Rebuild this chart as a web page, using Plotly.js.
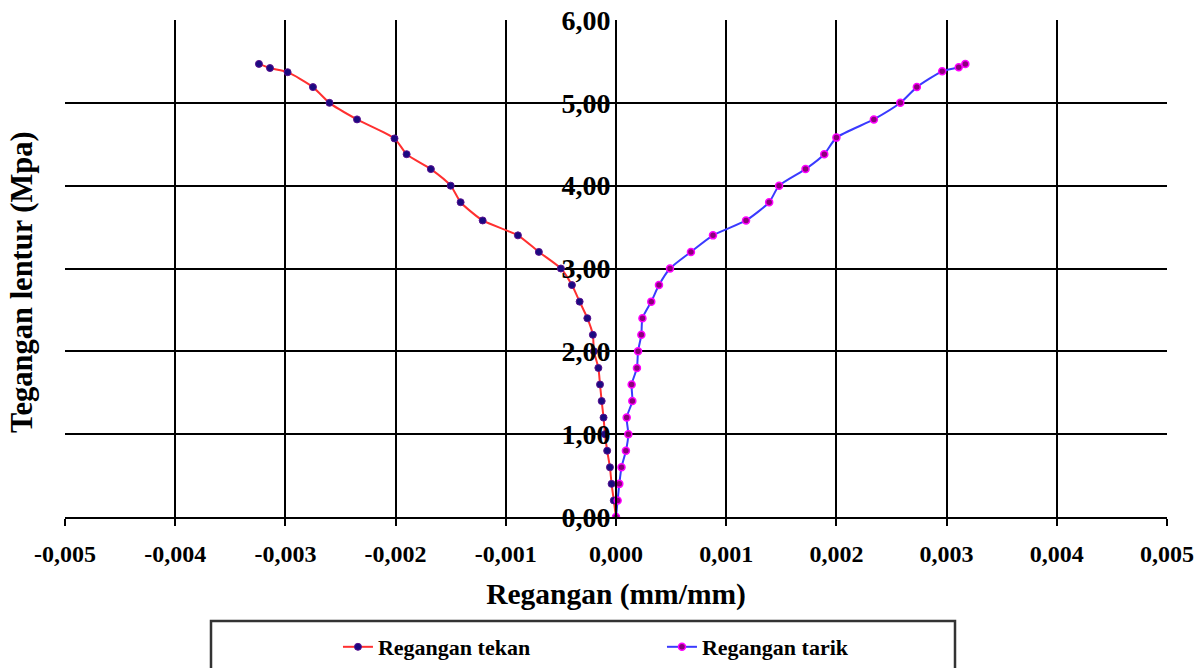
<!DOCTYPE html>
<html><head><meta charset="utf-8">
<script src="https://cdn.plot.ly/plotly-3.0.1.min.js"></script>
<style>html,body{margin:0;padding:0;background:#fff;}#chart{width:1198px;height:668px;}</style>
</head><body><div id="chart"></div>
<script>
// Regangan tekan (compression strain) and stress
const tekanStrain = [0, -0.00002, -0.00004, -0.000055, -0.00008, -0.0001, -0.000113, -0.00013, -0.000145, -0.00016, -0.0002, -0.00021, -0.00026, -0.00033, -0.0004, -0.0005, -0.0007, -0.00089, -0.00121, -0.00141, -0.0015, -0.00168, -0.0019, -0.00201, -0.00235, -0.0026, -0.00275, -0.00298, -0.00314, -0.00324];
const tekanStress = [0, 0.2, 0.4, 0.6, 0.8, 1.0, 1.2, 1.4, 1.6, 1.8, 2.0, 2.2, 2.4, 2.6, 2.8, 3.0, 3.2, 3.4, 3.58, 3.8, 4.0, 4.2, 4.38, 4.57, 4.8, 5.0, 5.19, 5.37, 5.42, 5.47];
// Regangan tarik (tension strain) and stress
const tarikStrain = [0, 0.000015, 0.00003, 0.00005, 0.00009, 0.000112, 0.000097, 0.000148, 0.000142, 0.00019, 0.0002, 0.00023, 0.00024, 0.00032, 0.00039, 0.00049, 0.00068, 0.00088, 0.00118, 0.00139, 0.00148, 0.00172, 0.00189, 0.002, 0.00234, 0.00258, 0.00273, 0.00296, 0.00311, 0.00317];
const tarikStress = [0, 0.2, 0.4, 0.6, 0.8, 1.0, 1.2, 1.4, 1.6, 1.8, 2.0, 2.2, 2.4, 2.6, 2.8, 3.0, 3.2, 3.4, 3.58, 3.8, 4.0, 4.2, 4.38, 4.58, 4.8, 5.0, 5.19, 5.38, 5.43, 5.47];
const seriesNames = ["Regangan tekan", "Regangan tarik"];
const xTickVals = [-0.005, -0.004, -0.003, -0.002, -0.001, 0, 0.001, 0.002, 0.003, 0.004, 0.005];
const xTickText = ["-0,005", "-0,004", "-0,003", "-0,002", "-0,001", "0,000", "0,001", "0,002", "0,003", "0,004", "0,005"];
const xTitle = "Regangan (mm/mm)";
const yTitle = "Tegangan lentur (Mpa)";

const serif = "Liberation Serif, Times New Roman, serif";
const traces = [
  {x: tekanStrain, y: tekanStress, name: seriesNames[0], type: "scatter", mode: "lines+markers",
   line: {color: "#ff3030", width: 2, shape: "spline", smoothing: 0.6},
   marker: {color: "#1a0a80", size: 7, line: {color: "#5a1090", width: 1}}},
  {x: tarikStrain, y: tarikStress, name: seriesNames[1], type: "scatter", mode: "lines+markers",
   line: {color: "#3a3aff", width: 2, shape: "spline", smoothing: 0.6},
   marker: {color: "#8a007a", size: 7, line: {color: "#ff00ff", width: 1.5}}}
];
const layout = {
  width: 1198, height: 668,
  margin: {l: 65, r: 31, t: 20, b: 151, autoexpand: false},
  paper_bgcolor: "#fff", plot_bgcolor: "#fff",
  separators: ",.",
  showlegend: true,
  font: {family: serif, color: "#000"},
  xaxis: {
    range: [-0.005, 0.005], tickmode: "array", tickvals: xTickVals, ticktext: xTickText,
    automargin: false,
    showgrid: true, gridcolor: "#000", gridwidth: 2, zeroline: false,
    showline: true, linecolor: "#000", linewidth: 2,
    ticks: "outside", ticklen: 7, tickcolor: "#000", tickwidth: 2,
    ticklabelstandoff: 7,
    tickfont: {family: serif, size: 24, color: "#000", weight: "bold"},
    title: {text: "<b>" + xTitle + "</b>", font: {family: serif, size: 29.5, color: "#000"}, standoff: 18}
  },
  yaxis: {
    range: [0, 6], dtick: 1, tickformat: ".2f",
    anchor: "free", position: 0.5, automargin: false,
    showgrid: true, gridcolor: "#000", gridwidth: 2, zeroline: false,
    showline: true, linecolor: "#000", linewidth: 2,
    ticks: "", ticklabelstandoff: -1,
    tickfont: {family: serif, size: 28, color: "#000", weight: "bold"}
  },
  legend: {
    orientation: "h", x: 0.2477, xanchor: "left", y: -0.2616, yanchor: "middle",
    bgcolor: "rgba(0,0,0,0)", borderwidth: 0,
    font: {family: serif, size: 22, color: "#000", weight: "bold"},
    entrywidth: 279
  },
  shapes: [
    {type: "rect", xref: "paper", yref: "paper",
     x0: (211 - 65) / 1102, x1: (955 - 65) / 1102,
     y0: -(675 - 517) / 497, y1: -(621 - 517) / 497,
     line: {color: "#333", width: 2.5}, fillcolor: "rgba(0,0,0,0)", layer: "below"}
  ],
  annotations: [
    {text: "<b>" + yTitle + "</b>", xref: "paper", yref: "paper",
     x: -(65 - 22) / 1102, y: (517 - 282) / 497, xanchor: "center", yanchor: "middle",
     textangle: -90, showarrow: false, font: {family: serif, size: 30.5, color: "#000"}}
  ]
};
Plotly.newPlot("chart", traces, layout, {displayModeBar: false, staticPlot: true});
</script>
</body></html>
